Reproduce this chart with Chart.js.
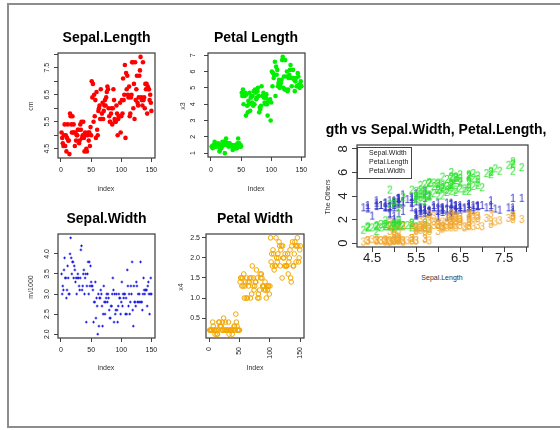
<!DOCTYPE html>
<html>
<head>
<meta charset="utf-8">
<title>iris</title>
<script src="https://cdn.jsdelivr.net/npm/chart.js@4.4.1/dist/chart.umd.min.js"></script>
<style>
  body { margin: 0; width: 560px; height: 430px; position: relative; overflow: hidden; background: #fff;
         font-family: "Liberation Sans", Arial, sans-serif; -webkit-font-smoothing: antialiased; }
  .frame { position: absolute; left: 7px; top: 3px; width: 560px; height: 421px;
           border: 2px solid #8c8c8c; border-right: none; }
  canvas { position: absolute; }
  .txt { position: absolute; white-space: nowrap; line-height: 1; transform: translate(-50%, -50%); }
  .main { font-size: 14px; font-weight: bold; color: #000; }
  .lab { font-size: 7px; color: #333; }
  .rot { transform: translate(-50%, -50%) rotate(-90deg); }
  .clip { position: absolute; overflow: hidden; }
</style>
</head>
<body>
<div class="frame"></div>
<script>
// iris measurements, rows 1..150
const sepalLength = [5.1,4.9,4.7,4.6,5.0,5.4,4.6,5.0,4.4,4.9,5.4,4.8,4.8,4.3,5.8,5.7,5.4,5.1,5.7,5.1,
  5.4,5.1,4.6,5.1,4.8,5.0,5.0,5.2,5.2,4.7,4.8,5.4,5.2,5.5,4.9,5.0,5.5,4.9,4.4,5.1,
  5.0,4.5,4.4,5.0,5.1,4.8,5.1,4.6,5.3,5.0,7.0,6.4,6.9,5.5,6.5,5.7,6.3,4.9,6.6,5.2,
  5.0,5.9,6.0,6.1,5.6,6.7,5.6,5.8,6.2,5.6,5.9,6.1,6.3,6.1,6.4,6.6,6.8,6.7,6.0,5.7,
  5.5,5.5,5.8,6.0,5.4,6.0,6.7,6.3,5.6,5.5,5.5,6.1,5.8,5.0,5.6,5.7,5.7,6.2,5.1,5.7,
  6.3,5.8,7.1,6.3,6.5,7.6,4.9,7.3,6.7,7.2,6.5,6.4,6.8,5.7,5.8,6.4,6.5,7.7,7.7,6.0,
  6.9,5.6,7.7,6.3,6.7,7.2,6.2,6.1,6.4,7.2,7.4,7.9,6.4,6.3,6.1,7.7,6.3,6.4,6.0,6.9,
  6.7,6.9,5.8,6.8,6.7,6.7,6.3,6.5,6.2,5.9];
const sepalWidth = [3.5,3.0,3.2,3.1,3.6,3.9,3.4,3.4,2.9,3.1,3.7,3.4,3.0,3.0,4.0,4.4,3.9,3.5,3.8,3.8,
  3.4,3.7,3.6,3.3,3.4,3.0,3.4,3.5,3.4,3.2,3.1,3.4,4.1,4.2,3.1,3.2,3.5,3.6,3.0,3.4,
  3.5,2.3,3.2,3.5,3.8,3.0,3.8,3.2,3.7,3.3,3.2,3.2,3.1,2.3,2.8,2.8,3.3,2.4,2.9,2.7,
  2.0,3.0,2.2,2.9,2.9,3.1,3.0,2.7,2.2,2.5,3.2,2.8,2.5,2.8,2.9,3.0,2.8,3.0,2.9,2.6,
  2.4,2.4,2.7,2.7,3.0,3.4,3.1,2.3,3.0,2.5,2.6,3.0,2.6,2.3,2.7,3.0,2.9,2.9,2.5,2.8,
  3.3,2.7,3.0,2.9,3.0,3.0,2.5,2.9,2.5,3.6,3.2,2.7,3.0,2.5,2.8,3.2,3.0,3.8,2.6,2.2,
  3.2,2.8,2.8,2.7,3.3,3.2,2.8,3.0,2.8,3.0,2.8,3.8,2.8,2.8,2.6,3.0,3.4,3.1,3.0,3.1,
  3.1,3.1,2.7,3.2,3.3,3.0,2.5,3.0,3.4,3.0];
const petalLength = [1.4,1.4,1.3,1.5,1.4,1.7,1.4,1.5,1.4,1.5,1.5,1.6,1.4,1.1,1.2,1.5,1.3,1.4,1.7,1.5,
  1.7,1.5,1.0,1.7,1.9,1.6,1.6,1.5,1.4,1.6,1.6,1.5,1.5,1.4,1.5,1.2,1.3,1.4,1.3,1.5,
  1.3,1.3,1.3,1.6,1.9,1.4,1.6,1.4,1.5,1.4,4.7,4.5,4.9,4.0,4.6,4.5,4.7,3.3,4.6,3.9,
  3.5,4.2,4.0,4.7,3.6,4.4,4.5,4.1,4.5,3.9,4.8,4.0,4.9,4.7,4.3,4.4,4.8,5.0,4.5,3.5,
  3.8,3.7,3.9,5.1,4.5,4.5,4.7,4.4,4.1,4.0,4.4,4.6,4.0,3.3,4.2,4.2,4.2,4.3,3.0,4.1,
  6.0,5.1,5.9,5.6,5.8,6.6,4.5,6.3,5.8,6.1,5.1,5.3,5.5,5.0,5.1,5.3,5.5,6.7,6.9,5.0,
  5.7,4.9,6.7,4.9,5.7,6.0,4.8,4.9,5.6,5.8,6.1,6.4,5.6,5.1,5.6,6.1,5.6,5.5,4.8,5.4,
  5.6,5.1,5.1,5.9,5.7,5.2,5.0,5.2,5.4,5.1];
const petalWidth = [0.2,0.2,0.2,0.2,0.2,0.4,0.3,0.2,0.2,0.1,0.2,0.2,0.1,0.1,0.2,0.4,0.4,0.3,0.3,0.3,
  0.2,0.4,0.2,0.5,0.2,0.2,0.4,0.2,0.2,0.2,0.2,0.4,0.1,0.2,0.2,0.2,0.2,0.1,0.2,0.2,
  0.3,0.3,0.2,0.6,0.4,0.3,0.2,0.2,0.2,0.2,1.4,1.5,1.5,1.3,1.5,1.3,1.6,1.0,1.3,1.4,
  1.0,1.5,1.0,1.4,1.3,1.4,1.5,1.0,1.5,1.1,1.8,1.3,1.5,1.2,1.3,1.4,1.4,1.7,1.5,1.0,
  1.1,1.0,1.2,1.6,1.5,1.6,1.5,1.3,1.3,1.3,1.2,1.4,1.2,1.0,1.3,1.2,1.3,1.3,1.1,1.3,
  2.5,1.9,2.1,1.8,2.2,2.1,1.7,1.8,1.8,2.5,2.0,1.9,2.1,2.0,2.4,2.3,1.8,2.2,2.3,1.5,
  2.3,2.0,2.0,1.8,2.1,1.8,1.8,1.8,2.1,1.6,1.9,2.0,2.2,1.5,1.4,2.3,2.4,1.8,1.8,2.1,
  2.4,2.3,1.9,2.3,2.5,2.3,1.9,2.0,2.2,2.3,1.8];
const obsIndex = sepalLength.map((v, i) => i + 1);

// tick values and their labels ('' = tick mark only)
const indexTicks = [0, 50, 100, 150];
const indexLabels = ['0', '50', '100', '150'];
const sepalLenTicks = [4.5, 5, 5.5, 6, 6.5, 7, 7.5, 8];
const sepalLenLabels = ['4.5', '', '5.5', '', '6.5', '', '7.5', ''];
const petalLenTicks = [1, 2, 3, 4, 5, 6, 7];
const petalLenLabels = ['1', '2', '3', '4', '5', '6', '7'];
const sepalWidTicks = [2, 2.5, 3, 3.5, 4];
const sepalWidLabels = ['2.0', '2.5', '3.0', '3.5', '4.0'];
const petalWidTicks = [0.5, 1, 1.5, 2, 2.5];
const petalWidLabels = ['0.5', '1.0', '1.5', '2.0', '2.5'];
const otherTicks = [0, 2, 4, 6, 8];
const otherLabels = ['0', '2', '4', '6', '8'];
const seriesNames = ['Sepal.Width', 'Petal.Length', 'Petal.Width'];

const FONT = '"Liberation Sans", Arial, sans-serif';

// R style: 4% padding around the data range
function pad(lo, hi) { const d = (hi - lo) * 0.04; return { min: lo - d, max: hi + d }; }

function text(str, x, y, cls) {
  const d = document.createElement('div');
  d.className = 'txt ' + cls;
  d.textContent = str;
  d.style.left = x + 'px';
  d.style.top = y + 'px';
  document.body.appendChild(d);
  return d;
}

const boxPlugin = {
  id: 'box',
  afterDraw(chart) {
    const a = chart.chartArea, ctx = chart.ctx;
    ctx.save();
    ctx.strokeStyle = '#3a3a3a';
    ctx.lineWidth = 1.2;
    ctx.strokeRect(a.left, a.top, a.right - a.left, a.bottom - a.top);
    ctx.restore();
  }
};

const legendPlugin = {
  id: 'boxLegend',
  afterDraw(chart) {
    const a = chart.chartArea, ctx = chart.ctx;
    ctx.save();
    ctx.strokeStyle = '#444';
    ctx.lineWidth = 1;
    ctx.strokeRect(a.left + 0.5, a.top + 2.5, 54, 31);
    ctx.fillStyle = '#222';
    ctx.font = '7px ' + FONT;
    ctx.textBaseline = 'middle';
    chart.data.datasets.forEach((ds, i) => {
      ctx.fillText(ds.label, a.left + 12, a.top + 8.5 + i * 9);
    });
    ctx.restore();
  }
};

function axisOpts(o, isX) {
  const rot = o.rot || 0;
  return {
    type: 'linear',
    min: o.min,
    max: o.max,
    afterBuildTicks: s => { s.ticks = o.ticks.map(v => ({ value: v })); },
    afterFit: s => { if (isX) s.height = o.size; else s.width = o.size; },
    border: { display: false },
    grid: { drawOnChartArea: false, drawTicks: true, tickLength: o.tickLen || 4, color: '#444', lineWidth: 1 },
    ticks: {
      autoSkip: false,
      padding: o.pad,
      color: '#222',
      font: { family: FONT, size: o.font || 7, lineHeight: 1 },
      minRotation: rot,
      maxRotation: rot,
      crossAlign: (!isX && rot) ? 'center' : 'near',
      callback: (v, i) => o.labels[i]
    }
  };
}

function makePanel(p) {
  const L = p.y.size, T = 14, R = 14, B = p.x.size;
  const cv = document.createElement('canvas');
  cv.width = p.box.w + L + R;
  cv.height = p.box.h + T + B;
  cv.style.left = (p.box.x - L) + 'px';
  cv.style.top = (p.box.y - T) + 'px';
  document.body.appendChild(cv);
  return new Chart(cv, {
    type: 'scatter',
    data: { datasets: p.datasets },
    options: {
      responsive: false,
      animation: false,
      events: [],
      layout: { padding: { top: T, right: R, bottom: 0, left: 0 } },
      plugins: { legend: { display: false }, tooltip: { enabled: false } },
      scales: { x: axisOpts(p.x, true), y: axisOpts(p.y, false) }
    },
    plugins: [boxPlugin].concat(p.plugins || [])
  });
}

function pts(xs, ys) { return xs.map((x, i) => ({ x: x, y: ys[i] })); }

// digit used as the plotting symbol in the matplot panel
function glyph(ch, color) {
  const c = document.createElement('canvas');
  c.width = 8; c.height = 11;
  const g = c.getContext('2d');
  g.font = '10px ' + FONT;
  g.fillStyle = color;
  g.textAlign = 'center';
  g.textBaseline = 'alphabetic';
  g.fillText(ch, 4, 9.1);
  return c;
}

const idxRange = pad(1, 150);

// Sepal.Length
makePanel({
  box: { x: 58, y: 53, w: 97, h: 105 },
  x: Object.assign({ ticks: indexTicks, labels: indexLabels, size: 26, pad: 4.5 }, idxRange),
  y: Object.assign({ ticks: sepalLenTicks, labels: sepalLenLabels, size: 30, pad: 2, rot: 90 }, pad(4.3, 7.9)),
  datasets: [{ data: pts(obsIndex, sepalLength), pointRadius: 2.3, pointBackgroundColor: '#ff0000', pointBorderWidth: 0 }]
});

// Petal Length
makePanel({
  box: { x: 208, y: 53, w: 97, h: 104 },
  x: Object.assign({ ticks: indexTicks, labels: indexLabels, size: 26, pad: 5.5 }, idxRange),
  y: Object.assign({ ticks: petalLenTicks, labels: petalLenLabels, size: 30, pad: 9, rot: 90 }, pad(1.0, 6.9)),
  datasets: [{ data: pts(obsIndex, petalLength), pointRadius: 2.3, pointBackgroundColor: '#00ee00', pointBorderWidth: 0 }]
});

// Sepal.Width
makePanel({
  box: { x: 58, y: 234, w: 97, h: 104 },
  x: Object.assign({ ticks: indexTicks, labels: indexLabels, size: 26, pad: 4.5 }, idxRange),
  y: Object.assign({ ticks: sepalWidTicks, labels: sepalWidLabels, size: 30, pad: 2, rot: 90 }, pad(2.0, 4.4)),
  datasets: [{ data: pts(obsIndex, sepalWidth), pointStyle: 'cross', pointRadius: 1.3, pointBorderColor: '#1a1ae6', pointBorderWidth: 1 }]
});

// Petal Width
makePanel({
  box: { x: 206, y: 234, w: 98, h: 104 },
  x: Object.assign({ ticks: indexTicks, labels: indexLabels, size: 26, pad: 5, rot: 90 }, idxRange),
  y: Object.assign({ ticks: petalWidTicks, labels: petalWidLabels, size: 30, pad: 2 }, pad(0.1, 2.5)),
  datasets: [{ data: pts(obsIndex, petalWidth), pointRadius: 2.3, pointBackgroundColor: 'rgba(0,0,0,0)', pointBorderColor: '#f2a600', pointBorderWidth: 1 }]
});

// Sepal.Length vs the others (matplot)
makePanel({
  box: { x: 357, y: 145, w: 171, h: 102 },
  x: Object.assign({ ticks: sepalLenTicks, labels: sepalLenLabels, size: 26, pad: 0, font: 13, tickLen: 5 }, pad(4.3, 7.9)),
  y: Object.assign({ ticks: otherTicks, labels: otherLabels, size: 30, pad: 5.4, font: 13, tickLen: 5, rot: 90 }, pad(0, 8)),
  datasets: [
    { label: seriesNames[0], order: 3, data: pts(sepalLength, sepalWidth), pointStyle: glyph('1', '#3535c8'), pointRadius: 4 },
    { label: seriesNames[1], order: 2, data: pts(sepalLength, petalLength), pointStyle: glyph('2', '#2ee02e'), pointRadius: 4 },
    { label: seriesNames[2], order: 1, data: pts(sepalLength, petalWidth), pointStyle: glyph('3', '#f0a830'), pointRadius: 4 }
  ],
  plugins: [legendPlugin]
});

// titles and axis titles
text('Sepal.Length', 106.5, 37, 'main');
text('Petal Length', 256, 37, 'main');
text('Sepal.Width', 106.5, 218, 'main');
text('Petal Width', 255, 218, 'main');

const clip = document.createElement('div');
clip.className = 'clip';
clip.style.cssText = 'left:326px;top:115px;width:225px;height:30px;';
document.body.appendChild(clip);
const t5 = document.createElement('div');
t5.className = 'txt main';
t5.textContent = 'Sepal.Length vs Sepal.Width, Petal.Length, Petal.Width';
t5.style.left = (443 - 326) + 'px';
t5.style.top = (129 - 115) + 'px';
clip.appendChild(t5);

text('cm', 30, 106, 'lab rot');
text('index', 106, 188, 'lab');
text('x3', 182, 106, 'lab rot');
text('Index', 256, 188, 'lab');
text('m/1000', 30, 287, 'lab rot');
text('index', 106, 367, 'lab');
text('x4', 180, 287, 'lab rot');
text('Index', 255, 367, 'lab');
text('The Others', 327, 197, 'lab rot');
text('Sepal.Length', 442, 277, 'lab');
</script>
</body>
</html>
